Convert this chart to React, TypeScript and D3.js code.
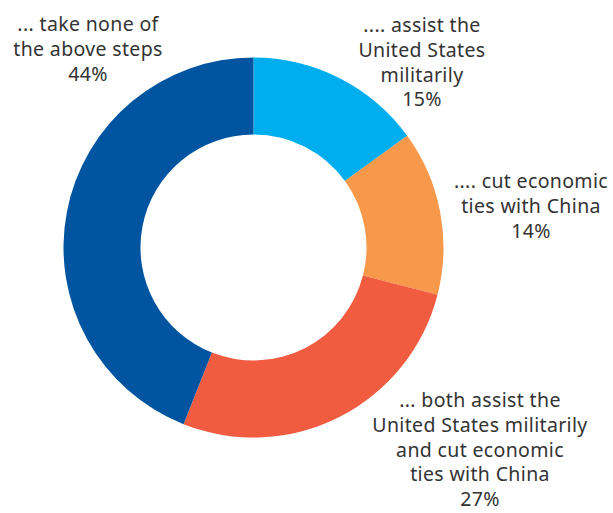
import React from "react";
import * as d3 from "d3";

const categories = [
  ".... assist the United States militarily",
  ".... cut economic ties with China",
  "... both assist the United States militarily and cut economic ties with China",
  "... take none of the above steps",
];
const values = [15, 14, 27, 44];
const colors = ["#00AEEF", "#F7984A", "#F15B40", "#0054A0"];
const labelLines = [
  [".... assist the", "United States", "militarily", "15%"],
  [".... cut economic", "ties with China", "14%"],
  ["... both assist the", "United States militarily", "and cut economic", "ties with China", "27%"],
  ["... take none of", "the above steps", "44%"],
];
const labelPos = [
  { x: 422, y: 32 },
  { x: 531, y: 188 },
  { x: 480, y: 407 },
  { x: 88, y: 31 },
];

export default function App() {
  const W = 613, H = 513;
  const cx = 253.5, cy = 247.5, rO = 190, rI = 113;
  const pie = d3.pie<number>().sort(null).value((d) => d);
  const arcs = pie(values);
  const arc = d3.arc<d3.PieArcDatum<number>>().innerRadius(rI).outerRadius(rO);
  return (
    <svg width={W} height={H} style={{ position: "absolute", left: 0, top: 0, background: "#fff" }}>
      <g transform={`translate(${cx},${cy})`}>
        {arcs.map((a, i) => (
          <path key={categories[i]} d={arc(a) || ""} fill={colors[i]} />
        ))}
      </g>
      {labelLines.map((lines, i) => (
        <text key={i} textAnchor="middle" fontFamily="'Noto Sans', sans-serif" fontSize={19.5} letterSpacing={0.35} fill="#333">
          {lines.map((l, j) => (
            <tspan key={j} x={labelPos[i].x} y={labelPos[i].y + j * 24.8}>{l}</tspan>
          ))}
        </text>
      ))}
    </svg>
  );
}
